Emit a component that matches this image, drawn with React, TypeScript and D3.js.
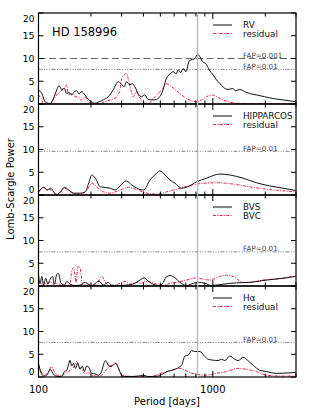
import React from "react";
import * as d3 from "d3";

type Pt = [number, number];

// Panel 1: RV periodogram and residual
const rvPower: Pt[] = [
  [100, 3.1], [104.5, 2.3], [109.2, 0.5], [116.6, 0.1], [121.8, 1.2], [127.3, 3.1], [131.2, 4.0], [135.9, 3.2],
  [140.8, 3.4], [145.2, 2.3], [149.7, 2.5], [155, 2.0], [160.6, 2.7], [165.6, 2.9], [170.8, 2.2], [176.9, 2.7],
  [184.8, 2.0], [193.1, 1.0], [201.7, 0.5], [210.8, 0.15], [220.2, 0.4], [235.2, 0.9], [251.2, 1.6], [268.3, 3.1],
  [286.5, 4.9], [296.8, 4.5], [310.1, 3.8], [319.8, 4.9], [334.2, 4.2], [344.5, 4.5], [356.8, 3.8], [372.8, 2.3],
  [389.5, 1.6], [406.9, 2.0], [425.2, 1.0], [454.2, 0.9], [474.5, 1.0], [495.8, 1.6], [518, 3.1], [541.2, 5.6],
  [568, 6.6], [593.5, 7.1], [614.7, 6.6], [633.9, 7.5], [653.6, 6.9], [677, 7.8], [701.2, 7.1], [732.6, 9.5],
  [765.4, 9.8], [789.3, 10.0], [817.5, 10.9], [842.9, 10.4], [873.1, 9.3], [912.2, 8.9], [953.1, 7.5], [1004.7, 6.4],
  [1049.7, 5.3], [1096.7, 4.5], [1145.8, 3.7], [1223.9, 3.2], [1295.7, 3.4], [1353.9, 2.9], [1427.2, 3.2],
  [1524, 2.7], [1627.4, 2.3], [1776.7, 2.0], [1983.1, 1.6], [2212.9, 1.2], [2523.4, 0.9], [2981.8, 0.5],
];
const rvResidual: Pt[] = [
  [100, 2.0], [103.6, 1.2], [106.8, 0.1], [114.1, 0], [121.8, 0.9], [127.3, 2.0], [133, 2.7], [137.1, 3.1],
  [142, 3.6], [145.2, 4.2], [148.4, 2.0], [155, 2.3], [162, 1.6], [169.3, 1.5], [176.9, 0.9], [184.8, 1.6],
  [193.1, 0.5], [206.2, 0.15], [220.2, 0], [240.4, 0.5], [262.4, 1.0], [280.3, 1.5], [292.9, 3.1], [299.4, 5.4],
  [310.1, 6.4], [319.8, 6.7], [326.9, 5.6], [338.6, 3.1], [349.1, 1.6], [364.7, 2.7], [372.8, 2.0], [389.5, 0.9],
  [406.9, 0.15], [425.2, 0], [454.2, 1.2], [485, 2.3], [518, 3.5], [540, 4.5], [555.7, 4.3], [580.6, 3.8],
  [620.1, 2.9], [662.3, 2.0], [707.3, 1.2], [755.4, 0.7], [806.8, 0.5], [861.6, 0.9], [920.3, 1.6], [982.9, 2.0],
  [1049.7, 1.6], [1145.8, 0.9], [1251.1, 0.4], [1427.2, 0.15], [1856.3, 0.05], [2981.8, 0.05],
];

// Panel 2: HIPPARCOS periodogram and residual
const hipPower: Pt[] = [
  [100, 0.7], [107.3, 1.7], [112.1, 1.1], [117.1, 1.5], [122.3, 0.7], [126.7, 0], [133.6, 0.7], [140.8, 1.7],
  [149.1, 1.1], [159.3, 0.4], [173.9, 0.4], [185.6, 0.7], [194, 2.6], [202.6, 4.4], [211.7, 3.7], [226.2, 1.8],
  [257.8, 1.5], [275.4, 1.1], [294.1, 2.0], [318.3, 3.1], [342.8, 2.2], [366.2, 1.5], [399.9, 1.1], [436.7, 3.3],
  [477, 4.8], [498, 5.3], [531.9, 4.4], [568, 3.3], [606.7, 2.6], [662.3, 1.5], [707.3, 1.7], [806.8, 2.9],
  [920.3, 3.7], [1096.7, 4.6], [1251.1, 4.4], [1490.8, 3.7], [1776.7, 2.7], [2117.8, 2.0], [2523.4, 1.5], [2981.8, 1.0],
];
const hipResidual: Pt[] = [
  [100, 0.6], [107.3, 1.6], [112.1, 1.1], [117.1, 1.2], [125.1, 0.2], [133.6, 0.5], [140.8, 1.5], [152.4, 0.7],
  [173.9, 0.15], [189.8, 1.1], [202.6, 2.6], [216.1, 1.7], [236.1, 0.7], [257.8, 0.4], [294.1, 1.1], [328.1, 1.7],
  [366.2, 1.2], [417.8, 0.4], [477, 0.2], [543.7, 0.7], [677, 1.7], [806.8, 2.4], [1049.7, 2.7], [1307.2, 2.4],
  [1627.4, 1.8], [2117.8, 1.2], [2981.8, 0.7],
];

// Panel 3: bisector velocity span (BVS) and curvature (BVC)
const bvsPower: Pt[] = [
  [100, 2.4], [102.2, 0.6], [104.5, 2.1], [106.8, 0.2], [110.1, 1.7], [113.1, 0.4], [116.6, 1.5], [120.2, 2.1],
  [123.5, 0.4], [127.3, 2.6], [130.1, 2.8], [134.7, 0.6], [140.8, 0.2], [145.2, 1.0], [151.7, 0.4], [162, 0.1],
  [173, 0.2], [184.8, 0.8], [193.1, 0.4], [201.7, 0], [215.4, 0.8], [222.2, 1.1], [235.2, 0.2], [251.2, 0.8],
  [262.4, 0.2], [286.5, 0.1], [319.8, 0.2], [356.8, 0.6], [389.5, 1.5], [403.4, 1.8], [425.2, 1.1], [454.2, 0.4],
  [485, 0.1], [511.3, 0.4], [541.2, 2.0], [568, 2.3], [606.7, 1.8], [647.9, 0.8], [707.3, 0.1], [772.2, 0.6],
  [824.7, 0.8], [900.3, 0.6], [982.9, 0.1], [1145.8, 0.4], [1365.9, 0.7], [1627.4, 0.8], [2026.6, 1.3],
  [2523.4, 1.7], [2981.8, 2.1],
];
const bvcPower: Pt[] = [
  [100, 1.1], [103.6, 0.4], [106.8, 0.8], [111.6, 0.2], [116.6, 1.0], [121.8, 0.4], [127.3, 0.6], [133, 0.2],
  [138.9, 0.4], [145.2, 0.1], [151.7, 0.6], [155, 3.2], [158.5, 4.0], [162, 2.4], [164.2, 0.6], [167.8, 4.0],
  [170.8, 4.4], [174.6, 3.2], [178.4, 0.4], [188.9, 0.2], [201.7, 0.4], [215.4, 0.2], [225.1, 1.7], [232.2, 2.0],
  [240.4, 1.0], [251.2, 0.2], [268.3, 0.1], [292.9, 0.6], [312.9, 1.0], [334.2, 0.4], [364.7, 0.8], [389.5, 0.6],
  [415.9, 1.0], [444.3, 0.8], [474.5, 0.4], [506.9, 0.1], [541, 0.3], [568, 0.6], [620.1, 0.8], [707.3, 1.3],
  [806.8, 1.8], [880.8, 1.5], [961.6, 1.3], [1096.7, 2.1], [1197.3, 2.4], [1307.2, 2.1], [1490.8, 0.8],
  [1627.4, 0.8], [1940, 1.3], [2523.4, 1.7], [2981.8, 2.2],
];

// Panel 4: H-alpha periodogram and residual
const haPower: Pt[] = [
  [100, 3.0], [102.2, 1.5], [105.4, 0.4], [109.2, 0.2], [113.1, 0.7], [116.6, 1.7], [119.2, 1.2], [123.5, 0.4],
  [129, 0.1], [135.9, 0.2], [140.8, 1.2], [145.2, 1.5], [148.4, 2.6], [151.7, 3.7], [155, 2.4], [158.5, 3.0],
  [163.4, 1.9], [167.8, 3.1], [173, 1.7], [178.4, 2.4], [183.2, 1.2], [188.9, 2.4], [194.8, 2.1], [201.7, 0.8],
  [210.8, 0.7], [220.2, 0.4], [230.1, 1.2], [237.3, 3.0], [242.6, 3.6], [251.2, 2.6], [260.2, 2.3], [268.3, 2.6],
  [276.7, 3.0], [284, 2.4], [292.9, 1.2], [302, 0.2], [326.9, 0.1], [372.8, 0.2], [398.1, 0.4], [425.2, 0.1],
  [485, 0.2], [518, 0.7], [541, 1.1], [606.7, 1.7], [662.3, 2.6], [692, 4.6], [723, 4.8], [755.4, 5.8],
  [789.3, 5.6], [842.9, 5.6], [900.3, 4.5], [940.6, 3.9], [1004.7, 3.7], [1073, 3.6], [1121, 3.9], [1171.3, 3.6],
  [1251.1, 4.6], [1336.2, 3.9], [1396.2, 3.6], [1490.8, 4.3], [1592.3, 3.6], [1700.6, 2.6], [1856.3, 1.5],
  [2026.6, 1.2], [2311.8, 0.8], [2981.8, 1.0],
];
const haResidual: Pt[] = [
  [100, 2.6], [103.6, 1.2], [106.8, 0.4], [111.6, 0.7], [115.1, 1.5], [119.2, 2.3], [121.8, 1.5], [127.3, 0.4],
  [135.9, 0.2], [142, 0.8], [148.4, 1.2], [155, 1.7], [160.6, 2.4], [165.6, 3.4], [170.8, 2.3], [176.9, 1.7],
  [184.8, 0.7], [193.1, 1.0], [201.7, 0.4], [215.4, 0.2], [230.1, 0.4], [240.4, 1.2], [253.4, 2.3], [264.8, 2.6],
  [276.7, 3.1], [286.5, 2.1], [299.4, 0.4], [319.8, 0.2], [372.8, 0.1], [444.3, 0.1], [498, 0.8], [568, 1.4],
  [647.9, 1.9], [692, 1.5], [739, 1.0], [806.8, 0.6], [920.3, 0.4], [1049.7, 0.8], [1197.3, 1.2], [1396.2, 1.9],
  [1557.8, 1.7], [1776.7, 1.2], [2026.6, 0.4], [2523.4, 0.2], [2981.8, 0.2],
];

const mainLabels = ["RV", "HIPPARCOS", "BVS", "H\u03b1"];
const secondLabels = ["residual", "residual", "BVC", "residual"];
const fap001Levels = [10.0, null, null, null];
const fap01Levels = [7.6, 9.6, 7.5, 7.6];
const yTicks = [0, 5, 10, 15, 20];
const xMajorTicks = [100, 1000];
const xMinorTicks = [200, 300, 400, 500, 600, 700, 800, 900, 2000, 3000];
const markedPeriod = 818;
const starName = "HD 158996";

const FONT = "DejaVu Sans, Verdana, sans-serif";
const RED = "#ee1c4a";

export default function App() {
  const W = 314, H = 420;
  const left = 38.5, right = 296, top = 13, panelH = 91;
  const x = d3.scaleLog().domain([100, 3000]).range([left, right]);
  const series = [
    [rvPower, rvResidual],
    [hipPower, hipResidual],
    [bvsPower, bvcPower],
    [haPower, haResidual],
  ];
  const bottom = top + panelH * 4;

  return (
    <svg width={W} height={H} style={{ position: "absolute", left: 0, top: 0, background: "#fff" }} fontFamily={FONT}>
      <defs>
        {series.map((_, i) => (
          <clipPath id={`clip${i}`} key={i}>
            <rect x={left} y={top + i * panelH} width={right - left} height={panelH} />
          </clipPath>
        ))}
      </defs>
      {series.map((s, i) => {
        const y0 = top + i * panelH;
        const y = d3.scaleLinear().domain([0, 20]).range([y0 + panelH, y0]);
        const line = d3.line<Pt>().x((d) => x(d[0])).y((d) => y(d[1])).curve(d3.curveMonotoneX);
        const f1 = fap001Levels[i];
        const f2 = fap01Levels[i];
        return (
          <g key={i}>
            {f1 !== null && (
              <g>
                <line x1={left} x2={right} y1={y(f1)} y2={y(f1)} stroke="#555" strokeWidth={0.9} strokeDasharray="7 3.5" />
                <text x={243} y={y(f1) - 0.5} fontSize={7.2} fill="#444">FAP=0.001</text>
              </g>
            )}
            <line x1={left} x2={right} y1={y(f2)} y2={y(f2)} stroke="#666" strokeWidth={0.8} strokeDasharray="4 1.5 1 1.5 1 1.5 1 1.5" />
            <text x={243} y={y(f2) - 0.5} fontSize={7.2} fill="#444">FAP=0.01</text>
            <g clipPath={`url(#clip${i})`}>
              <path d={line(s[1]) || ""} fill="none" stroke={RED} strokeWidth={1} strokeDasharray="3 1.3 1 1.3" />
              <path d={line(s[0]) || ""} fill="none" stroke="#111" strokeWidth={1} />
            </g>
            {/* legend */}
            <line x1={213} x2={232} y1={y0 + 12} y2={y0 + 12} stroke="#111" strokeWidth={1} />
            <text x={243} y={y0 + 15} fontSize={8.8} fill="#111">{mainLabels[i]}</text>
            <line x1={213} x2={232} y1={y0 + 20.5} y2={y0 + 20.5} stroke={RED} strokeWidth={1} strokeDasharray="3 1.3 1 1.3" />
            <text x={243} y={y0 + 23.5} fontSize={8.8} fill="#111">{secondLabels[i]}</text>
            {/* frame */}
            <rect x={left} y={y0} width={right - left} height={panelH} fill="none" stroke="#000" strokeWidth={1.2} />
            {/* y ticks */}
            {yTicks.map((t) => (
              <g key={t}>
                <line x1={left} x2={left + 5} y1={y(t)} y2={y(t)} stroke="#000" strokeWidth={1} />
                <line x1={right - 5} x2={right} y1={y(t)} y2={y(t)} stroke="#000" strokeWidth={1} />
                <text
                  x={left - 4}
                  y={t === 0 ? y(t) - 1.8 : t === 20 ? y(t) + 8.6 : y(t) + 3.4}
                  fontSize={t === 0 || t === 20 ? 9 : 9.5}
                  textAnchor="end"
                  fill="#000"
                >
                  {t}
                </text>
              </g>
            ))}
            {/* x ticks */}
            {xMajorTicks.map((t) => (
              <g key={t}>
                <line x1={x(t)} x2={x(t)} y1={y0} y2={y0 + 6} stroke="#000" strokeWidth={1} />
                <line x1={x(t)} x2={x(t)} y1={y0 + panelH - 6} y2={y0 + panelH} stroke="#000" strokeWidth={1} />
              </g>
            ))}
            {xMinorTicks.map((t) => (
              <g key={t}>
                <line x1={x(t)} x2={x(t)} y1={y0} y2={y0 + 3.5} stroke="#000" strokeWidth={1} />
                <line x1={x(t)} x2={x(t)} y1={y0 + panelH - 3.5} y2={y0 + panelH} stroke="#000" strokeWidth={1} />
              </g>
            ))}
            {i === 0 && (
              <text x={52} y={36} fontSize={11.5} fill="#000">{starName}</text>
            )}
          </g>
        );
      })}
      <line x1={x(markedPeriod)} x2={x(markedPeriod)} y1={top} y2={bottom} stroke="#a9b3e3" strokeWidth={1.2} />
      {xMajorTicks.map((t) => (
        <text key={t} x={x(t)} y={bottom + 16} fontSize={10} textAnchor="middle" fill="#000">{t}</text>
      ))}
      <text x={167} y={bottom + 28} fontSize={10} textAnchor="middle" fill="#000">Period [days]</text>
      <text transform={`translate(14,${(top + bottom) / 2 - 6}) rotate(-90)`} fontSize={10} textAnchor="middle" fill="#000">
        Lomb-Scargle Power
      </text>
    </svg>
  );
}
